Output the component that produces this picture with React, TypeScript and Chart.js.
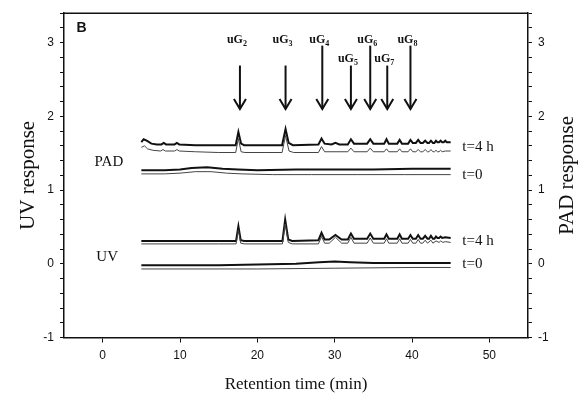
import React, { useEffect, useRef } from "react";
import { Chart, registerables } from "chart.js";

Chart.register(...registerables);

type P = [number, number];

// PAD traces (right axis)
const padT4hMain: P[] = [[5.0,1.65],[5.3,1.69],[5.7,1.67],[6.3,1.63],[7.0,1.62],[7.6,1.62],[7.9,1.64],[8.2,1.62],[9.3,1.62],[9.6,1.64],[9.9,1.62],[12.0,1.61],[15.0,1.61],[17.2,1.61],[17.55,1.79],[17.9,1.63],[18.3,1.61],[21.0,1.61],[23.2,1.61],[23.65,1.83],[24.05,1.64],[24.6,1.61],[27.9,1.62],[28.3,1.70],[28.7,1.63],[29.6,1.62],[30.1,1.64],[30.6,1.62],[31.7,1.62],[32.1,1.69],[32.5,1.63],[34.2,1.63],[34.6,1.69],[35.0,1.63],[36.4,1.63],[36.7,1.69],[37.0,1.63],[38.1,1.63],[38.4,1.68],[38.7,1.63],[39.5,1.63],[39.8,1.68],[40.1,1.64],[40.5,1.64],[40.8,1.68],[41.1,1.64],[41.4,1.64],[41.7,1.67],[42.0,1.64],[42.2,1.64],[42.45,1.67],[42.7,1.64],[42.9,1.64],[43.1,1.67],[43.3,1.65],[43.5,1.65],[43.7,1.67],[43.9,1.65],[44.1,1.65],[44.3,1.67],[44.5,1.65],[45.0,1.65]];
const padT4hSub: P[] = [[5.0,1.58],[5.4,1.60],[5.8,1.56],[6.5,1.54],[7.5,1.53],[7.8,1.55],[8.1,1.53],[9.3,1.53],[9.6,1.55],[9.9,1.53],[12.0,1.52],[15.0,1.51],[17.2,1.51],[17.55,1.70],[17.9,1.52],[18.4,1.51],[21.0,1.51],[23.2,1.51],[23.65,1.74],[24.1,1.53],[24.7,1.51],[27.9,1.51],[28.3,1.59],[28.7,1.52],[31.7,1.52],[32.1,1.57],[32.5,1.52],[34.2,1.52],[34.6,1.57],[35.0,1.52],[36.4,1.52],[36.7,1.56],[37.0,1.52],[38.1,1.52],[38.4,1.56],[38.7,1.52],[39.5,1.52],[39.8,1.56],[40.1,1.52],[40.5,1.52],[40.8,1.55],[41.1,1.52],[41.4,1.52],[41.7,1.55],[42.0,1.52],[42.2,1.52],[42.45,1.55],[42.7,1.52],[42.9,1.52],[43.1,1.54],[43.3,1.52],[43.5,1.52],[43.7,1.54],[43.9,1.52],[44.3,1.53],[45.0,1.53]];
const padT0Main: P[] = [[5.0,1.27],[8.0,1.27],[10.0,1.28],[11.5,1.30],[13.5,1.31],[15.5,1.29],[17.5,1.28],[20.0,1.27],[25.0,1.28],[30.0,1.28],[35.0,1.28],[40.0,1.29],[45.0,1.29]];
const padT0Sub: P[] = [[5.0,1.22],[8.0,1.22],[10.0,1.23],[12.0,1.25],[14.0,1.25],[16.0,1.23],[18.0,1.22],[22.0,1.21],[27.0,1.21],[33.0,1.21],[39.0,1.21],[45.0,1.21]];

// UV traces (left axis)
const uvT4hMain: P[] = [[5.0,0.31],[10.0,0.31],[15.0,0.31],[17.25,0.31],[17.55,0.51],[17.85,0.32],[18.3,0.31],[21.0,0.31],[23.25,0.31],[23.6,0.60],[24.0,0.33],[24.5,0.31],[27.9,0.32],[28.3,0.42],[28.7,0.33],[29.3,0.33],[30.1,0.39],[30.9,0.33],[31.7,0.33],[32.1,0.41],[32.5,0.34],[34.2,0.34],[34.6,0.41],[35.0,0.34],[36.4,0.34],[36.7,0.40],[37.0,0.34],[38.1,0.34],[38.4,0.40],[38.7,0.34],[39.5,0.34],[39.8,0.39],[40.1,0.34],[40.5,0.34],[40.8,0.39],[41.1,0.34],[41.4,0.34],[41.7,0.38],[42.0,0.34],[42.2,0.34],[42.45,0.38],[42.7,0.34],[42.9,0.34],[43.1,0.37],[43.3,0.35],[43.5,0.35],[43.7,0.37],[43.9,0.35],[44.3,0.36],[45.0,0.35]];
const uvT4hSub: P[] = [[5.0,0.27],[10.0,0.27],[15.0,0.27],[17.25,0.27],[17.55,0.46],[17.85,0.28],[18.3,0.27],[21.0,0.27],[23.25,0.27],[23.6,0.54],[24.0,0.29],[24.5,0.27],[27.9,0.27],[28.3,0.37],[28.7,0.28],[29.3,0.28],[30.1,0.36],[30.9,0.28],[31.7,0.28],[32.1,0.36],[32.5,0.28],[34.2,0.28],[34.6,0.35],[35.0,0.28],[36.4,0.28],[36.7,0.34],[37.0,0.28],[38.1,0.28],[38.4,0.34],[38.7,0.28],[39.5,0.28],[39.8,0.33],[40.1,0.28],[40.5,0.28],[40.8,0.33],[41.1,0.28],[41.4,0.28],[41.7,0.32],[42.0,0.28],[42.45,0.32],[42.7,0.28],[43.1,0.31],[43.5,0.29],[43.7,0.31],[44.0,0.29],[44.3,0.30],[45.0,0.29]];
const uvT0Main: P[] = [[5.0,-0.02],[10.0,-0.02],[15.0,-0.02],[20.0,-0.01],[25.0,0.0],[28.0,0.02],[30.0,0.03],[32.0,0.02],[35.0,0.01],[40.0,0.01],[45.0,0.01]];
const uvT0Sub: P[] = [[5.0,-0.07],[10.0,-0.07],[20.0,-0.07],[30.0,-0.06],[40.0,-0.05],[45.0,-0.05]];

// Axis ranges / ticks
const xMin = -5, xMax = 55;
const xTickValues = [0, 10, 20, 30, 40, 50];
const yMin = -1, yMax = 3.4, yStep = 0.2;

// Arrow annotations
const arrowSub = ["2", "3", "4", "5", "6", "7", "8"];
const arrowX = [17.75, 23.65, 28.4, 32.1, 34.6, 36.8, 39.8];
const arrowTop = [2.69, 2.69, 2.96, 2.69, 2.96, 2.69, 2.96];
const arrowLabelY = [3.04, 3.04, 3.04, 2.78, 3.04, 2.78, 3.04];
const arrowTip = 2.1;

const INK = "#111";
const SERIF = '"Liberation Serif", "Times New Roman", serif';
const SANS = '"Liberation Sans", Arial, sans-serif';

const toXY = (a: P[]) => a.map(([x, y]) => ({ x, y }));

const annotPlugin = {
  id: "annot",
  afterDraw(chart: any) {
    const { ctx, chartArea: ca, scales } = chart;
    const sx = scales.x, sy = scales.y;
    const px = (v: number) => sx.getPixelForValue(v);
    const py = (v: number) => sy.getPixelForValue(v);
    ctx.save();
    // top frame
    ctx.strokeStyle = INK;
    ctx.lineWidth = 1.5;
    ctx.beginPath();
    ctx.moveTo(ca.left, ca.top);
    ctx.lineTo(ca.right, ca.top);
    ctx.stroke();

    ctx.fillStyle = INK;
    // panel letter
    ctx.font = `bold 14px ${SANS}`;
    ctx.textAlign = "left";
    ctx.textBaseline = "alphabetic";
    ctx.fillText("B", px(-3.37), py(3.14));

    // arrows
    ctx.lineWidth = 2;
    ctx.lineCap = "butt";
    for (let i = 0; i < arrowX.length; i++) {
      const x = px(arrowX[i]);
      const yTop = py(arrowTop[i]);
      const yTip = py(arrowTip);
      ctx.beginPath();
      ctx.moveTo(x, yTop);
      ctx.lineTo(x, yTip);
      ctx.stroke();
      ctx.beginPath();
      ctx.moveTo(x - 6, yTip - 10);
      ctx.lineTo(x, yTip);
      ctx.lineTo(x + 6, yTip - 10);
      ctx.stroke();
      // label uG_n
      ctx.font = `bold 12px ${SERIF}`;
      const w1 = ctx.measureText("uG").width;
      ctx.font = `bold 8px ${SERIF}`;
      const w2 = ctx.measureText(arrowSub[i]).width;
      const start = x - 3 - (w1 + w2) / 2;
      const ly = py(arrowLabelY[i]);
      ctx.textBaseline = "middle";
      ctx.font = `bold 12px ${SERIF}`;
      ctx.fillText("uG", start, ly);
      ctx.font = `bold 8px ${SERIF}`;
      ctx.fillText(arrowSub[i], start + w1, ly + 4);
    }

    // trace labels
    ctx.font = `15px ${SERIF}`;
    ctx.textBaseline = "middle";
    ctx.textAlign = "left";
    ctx.fillText("PAD", px(-1.04), py(1.38));
    ctx.fillText("UV", px(-0.82), py(0.09));
    ctx.fillText("t=4 h", px(46.5), py(1.58));
    ctx.fillText("t=0", px(46.5), py(1.2));
    ctx.fillText("t=4 h", px(46.5), py(0.31));
    ctx.fillText("t=0", px(46.5), py(0.0));

    // axis titles
    ctx.textAlign = "center";
    ctx.textBaseline = "middle";
    ctx.font = `17px ${SERIF}`;
    const midY = (ca.top + ca.bottom) / 2;
    ctx.fillText("Retention time (min)", (ca.left + ca.right) / 2, 385);
    ctx.font = `21px ${SERIF}`;
    ctx.save();
    ctx.translate(28, midY);
    ctx.rotate(-Math.PI / 2);
    ctx.fillText("UV response", 0, 0);
    ctx.restore();
    ctx.save();
    ctx.translate(567, midY);
    ctx.rotate(-Math.PI / 2);
    ctx.fillText("PAD response", 0, 0);
    ctx.restore();
    ctx.restore();
  },
};

const intLabel = (v: any) => {
  const n = Number(v);
  return Math.abs(n - Math.round(n)) < 1e-6 ? String(Math.round(n)) : "";
};

export default function App() {
  const ref = useRef<HTMLCanvasElement | null>(null);
  useEffect(() => {
    if (!ref.current) return;
    const mk = (data: P[], axis: string, main: boolean) => ({
      data: toXY(data),
      yAxisID: axis,
      borderColor: main ? "#111" : "#444",
      borderWidth: main ? 2 : 1,
      pointRadius: 0,
      tension: 0,
      fill: false,
    });
    const yAxis = (pos: "left" | "right", w: number) => ({
      type: "linear" as const,
      position: pos,
      min: yMin,
      max: yMax,
      afterFit: (s: any) => {
        s.width = w;
      },
      ticks: {
        stepSize: yStep,
        autoSkip: false,
        callback: intLabel,
        color: INK,
        font: { family: SANS, size: 12 },
        padding: 6,
      },
      grid: { drawOnChartArea: false, drawTicks: true, tickLength: 4, color: INK, lineWidth: 1 },
      border: { display: true, color: INK, width: 1.5 },
    });
    const chart = new Chart(ref.current, {
      type: "line",
      data: {
        datasets: [
          mk(padT4hSub, "y2", false),
          mk(padT4hMain, "y2", true),
          mk(padT0Sub, "y2", false),
          mk(padT0Main, "y2", true),
          mk(uvT4hSub, "y", false),
          mk(uvT4hMain, "y", true),
          mk(uvT0Sub, "y", false),
          mk(uvT0Main, "y", true),
        ],
      },
      options: {
        animation: false,
        responsive: true,
        maintainAspectRatio: false,
        devicePixelRatio: 1,
        layout: { padding: { top: 13, left: 0, right: 0, bottom: 0 } },
        plugins: { legend: { display: false }, tooltip: { enabled: false } },
        scales: {
          x: {
            type: "linear",
            min: xMin,
            max: xMax,
            afterBuildTicks: (s: any) => {
              s.ticks = xTickValues.map((v) => ({ value: v }));
            },
            afterFit: (s: any) => {
              s.height = 56.5;
            },
            ticks: {
              autoSkip: false,
              color: INK,
              font: { family: SANS, size: 12 },
              padding: 6,
              maxRotation: 0,
            },
            grid: { drawOnChartArea: false, drawTicks: true, tickLength: 5, color: INK },
            border: { display: true, color: INK, width: 1.5 },
          },
          y: yAxis("left", 64),
          y2: yAxis("right", 51),
        },
      } as any,
      plugins: [annotPlugin],
    });
    return () => chart.destroy();
  }, []);
  return (
    <div style={{ position: "fixed", left: 0, top: 0, width: 579, height: 394, background: "#fff" }}>
      <canvas ref={ref} />
    </div>
  );
}
